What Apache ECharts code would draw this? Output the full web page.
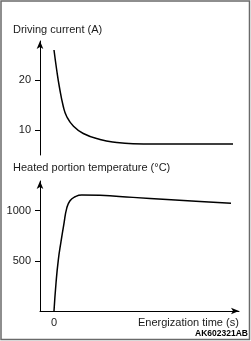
<!DOCTYPE html>
<html>
<head>
<meta charset="utf-8">
<script src="https://cdn.jsdelivr.net/npm/echarts@6/dist/echarts.min.js"></script>
<style>
  html, body { margin: 0; padding: 0; background: #fff; }
  #box { width: 251px; height: 341px; }
</style>
</head>
<body>
<div id="box"></div>
<script>
// driving current curve (time in arbitrary units, current in A)
const currentTime = [0, 1.35, 2.65, 4.65, 6.35, 9.65, 14.65, 23, 31.35, 39.5, 50, 89.5];
const currentAmp = [26, 22, 18.7, 14.7, 12.7, 10.8, 9.3, 8.1, 7.5, 7.25, 7.2, 7.2];
// heated portion temperature curve (°C)
const tempTime = [0, 1, 2.15, 3.5, 5, 6.35, 8, 10.5, 13.85, 23, 39.5, 56.5, 73, 88.5];
const tempDeg = [0, 276, 507, 690, 873, 1022, 1098, 1137, 1155, 1151, 1131, 1111, 1091, 1072];
// tick labels
const currentTicks = [10, 20];
const tempTicks = [500, 1000];
const timeTicks = [0];

const font = 'Liberation Sans, Arial, sans-serif';
const pair = (xs, ys) => xs.map((x, i) => [x, ys[i]]);

let myecharts = echarts.init(document.getElementById('box'));
let axisLineStyle = { color: '#000', width: 1 };
let labelStyle = { margin: 9, fontSize: 11, color: '#1a1a1a', fontFamily: font, formatter: v => String(v) };

let option = {
  animation: false,
  backgroundColor: '#fff',
  title: [
    {
      text: 'Driving current (A)',
      left: 13, top: 23, padding: 0,
      textStyle: { fontSize: 11, fontWeight: 'normal', color: '#1a1a1a', fontFamily: font, lineHeight: 14 }
    },
    {
      text: 'Heated portion temperature (°C)',
      left: 13, top: 161, padding: 0,
      textStyle: { fontSize: 11, fontWeight: 'normal', color: '#1a1a1a', fontFamily: font, lineHeight: 14 }
    },
    {
      text: 'Energization time (s)',
      left: 138, top: 316, padding: 0,
      textStyle: { fontSize: 11, fontWeight: 'normal', color: '#1a1a1a', fontFamily: font, lineHeight: 14 }
    },
    {
      text: 'AK602321AB',
      right: 3, top: 329, padding: 0,
      textStyle: { fontSize: 8.5, fontWeight: 'bold', color: '#000', fontFamily: font, lineHeight: 10 }
    }
  ],
  graphic: [{
    type: 'rect',
    shape: { x: 1, y: 1, width: 248.5, height: 338.5 },
    style: { fill: 'none', stroke: '#6a6a6a', lineWidth: 1.5 },
    silent: true
  }],
  grid: [
    { left: 40, top: 41, width: 199, height: 114 },
    { left: 40, top: 181, width: 199, height: 130 }
  ],
  xAxis: [
    { gridIndex: 0, type: 'value', min: -7, max: 92.5, show: false },
    {
      gridIndex: 1, type: 'value', min: -7, max: 92.5,
      splitLine: { show: false },
      axisLine: { onZero: false, lineStyle: axisLineStyle, symbol: ['none', 'arrow'], symbolSize: [5, 8] },
      axisTick: { show: false },
      axisLabel: Object.assign({}, labelStyle, { customValues: timeTicks, margin: 6 })
    }
  ],
  yAxis: [
    {
      gridIndex: 0, type: 'value', min: 5, max: 27.8,
      splitLine: { show: false },
      axisLine: { show: true, onZero: false, lineStyle: axisLineStyle, symbol: ['none', 'arrow'], symbolSize: [5, 8] },
      axisTick: { show: true, customValues: currentTicks, length: 5, lineStyle: { color: '#000' } },
      axisLabel: Object.assign({}, labelStyle, { customValues: currentTicks })
    },
    {
      gridIndex: 1, type: 'value', min: 0, max: 1294,
      splitLine: { show: false },
      axisLine: { show: true, onZero: false, lineStyle: axisLineStyle, symbol: ['none', 'arrow'], symbolSize: [5, 8] },
      axisTick: { show: true, customValues: tempTicks, length: 5, lineStyle: { color: '#000' } },
      axisLabel: Object.assign({}, labelStyle, { customValues: tempTicks })
    }
  ],
  series: [
    {
      name: 'Driving current', type: 'line', xAxisIndex: 0, yAxisIndex: 0,
      data: pair(currentTime, currentAmp),
      showSymbol: false, smooth: 0.5,
      lineStyle: { color: '#000', width: 1.5 }
    },
    {
      name: 'Heated portion temperature', type: 'line', xAxisIndex: 1, yAxisIndex: 1,
      data: pair(tempTime, tempDeg),
      showSymbol: false, smooth: 0.5,
      lineStyle: { color: '#000', width: 1.5 }
    }
  ]
};
myecharts.setOption(option);
</script>
</body>
</html>
